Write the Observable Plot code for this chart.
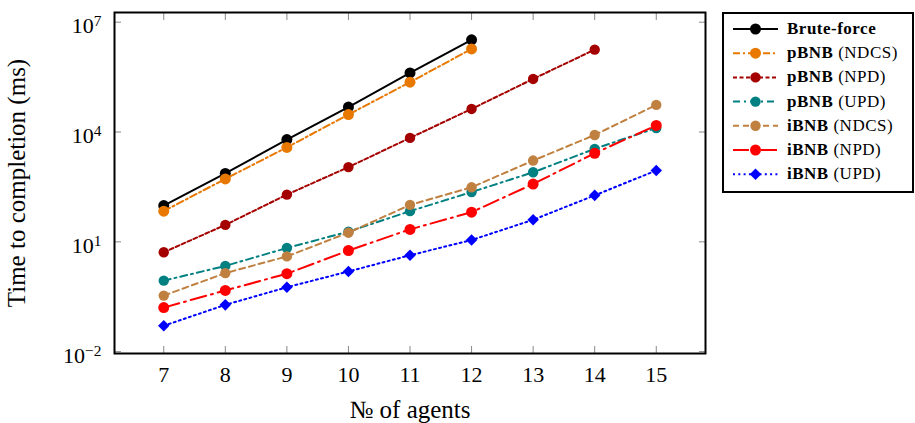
<!DOCTYPE html>
<html><head><meta charset="utf-8">
<script src="https://cdn.jsdelivr.net/npm/d3@7"></script>
<script src="https://cdn.jsdelivr.net/npm/@observablehq/plot@0.6"></script>
<style>body{margin:0;background:#fff} #chart{width:915px;height:423px}</style>
</head><body><div id="chart"></div>
<script>
// Data (time to completion in ms)
const agents = [7, 8, 9, 10, 11, 12, 13, 14, 15];
const bruteForce = [98, 740, 6200, 48000, 410000, 3300000];
const pbnbNdcs   = [69, 525, 3800, 30000, 230000, 1860000];
const pbnbNpd    = [5.2, 29, 195, 1100, 6900, 42700, 282000, 1780000];
const pbnbUpd    = [0.87, 2.2, 6.8, 19, 69, 229, 794, 3470, 12900];
const ibnbNdcs   = [0.34, 1.4, 4.0, 17.8, 102, 309, 1660, 8300, 55000];
const ibnbNpd    = [0.16, 0.47, 1.35, 5.8, 21.9, 64.6, 380, 2630, 15100];
const ibnbUpd    = [0.051, 0.19, 0.575, 1.55, 4.3, 11.2, 40, 186, 891];

const seriesNames    = ["Brute-force", "pBNB", "pBNB", "pBNB", "iBNB", "iBNB", "iBNB"];
const seriesVariants = ["", "NDCS", "NPD", "UPD", "NDCS", "NPD", "UPD"];
const seriesValues   = [bruteForce, pbnbNdcs, pbnbNpd, pbnbUpd, ibnbNdcs, ibnbNpd, ibnbUpd];

const xTicks = [7, 8, 9, 10, 11, 12, 13, 14, 15];
const yTicks = [1e-2, 1e1, 1e4, 1e7];
const xLabel = "№ of agents";
const yLabel = "Time to completion (ms)";

// styles
const seriesColors = ["#000000", "#e87800", "#a50000", "#008080", "#c08040", "#ff0000", "#0000ff"];
const seriesDash   = [null, "7 3 2 3", "4 2.5", "7 4 2 4", "6 4", "16 5 2 5", "2 3.3"];
const seriesSymbol = ["circle", "circle", "circle", "circle", "circle", "circle", "diamond2"];
const seriesR      = [5.5, 5.5, 5.2, 5.2, 5.2, 5.5, 5.2];

const marks = [];
seriesValues.forEach((vals, i) => {
  const data = vals.map((v, j) => ({x: agents[j], y: v}));
  marks.push(Plot.line(data, {x: "x", y: "y", stroke: seriesColors[i], strokeWidth: 2, strokeDasharray: seriesDash[i]}));
  marks.push(Plot.dot(data, {x: "x", y: "y", fill: seriesColors[i], stroke: "none", r: seriesR[i], symbol: seriesSymbol[i]}));
});

const expFmt = d => { const e = Math.round(Math.log10(d)); return e < 0 ? "\u2212" + (-e) : String(e); };

const chart = Plot.plot({
  width: 915, height: 423,
  marginLeft: 114, marginRight: 210, marginTop: 12, marginBottom: 70,
  style: {fontFamily: "'Liberation Serif', serif", fontSize: "22px", color: "black", background: "white"},
  x: {type: "linear", domain: [6.2, 15.8]},
  y: {type: "log", domain: [10 ** -2.05, 10 ** 7.265]},
  marks: [
    ...marks,
    Plot.axisX(xTicks, {anchor: "bottom", tickSize: -7, fill: "none", stroke: "#888", label: null}),
    Plot.axisX(xTicks, {anchor: "top", tickSize: -7, fill: "none", stroke: "#888", label: null}),
    Plot.axisY(yTicks, {anchor: "left", tickSize: -7, fill: "none", stroke: "#888", label: null}),
    Plot.axisY(yTicks, {anchor: "right", tickSize: -7, fill: "none", stroke: "#888", label: null}),
    Plot.axisX(xTicks, {anchor: "bottom", tickSize: 0, tickPadding: 13, tickFormat: d => String(d), label: xLabel, labelAnchor: "center", labelArrow: "none", labelOffset: 64}),
    Plot.axisY(yTicks, {anchor: "left", tickSize: 0, tickPadding: 13, dy: 4, tickFormat: expFmt, label: yLabel, labelAnchor: "center", labelArrow: "none", labelOffset: 107}),
    Plot.frame({stroke: "black", strokeWidth: 2})
  ]
});
document.getElementById("chart").appendChild(chart);

const svg = d3.select(chart);
// larger axis titles
svg.selectAll('g[aria-label="x-axis label"] text, g[aria-label="y-axis label"] text').attr("font-size", 25);
// superscript exponents on y tick labels
svg.selectAll('g[aria-label="y-axis tick label"] text').each(function() {
  const t = d3.select(this);
  const e = t.text();
  t.text("");
  t.append("tspan").text("10");
  t.append("tspan").attr("dy", "-0.45em").attr("font-size", "0.7em").text(e);
});

// legend
const lg = svg.append("g").attr("font-family", "'Liberation Serif', serif").attr("text-anchor", "start");
lg.append("rect").attr("x", 723).attr("y", 13).attr("width", 190).attr("height", 179)
  .attr("fill", "white").attr("stroke", "black").attr("stroke-width", 2);
const symMap = {circle: d3.symbolCircle, diamond2: d3.symbolDiamond2};
seriesNames.forEach((name, i) => {
  const y = 29 + i * 24.2;
  const g = lg.append("g");
  g.append("line").attr("x1", 733).attr("x2", 778).attr("y1", y).attr("y2", y)
    .attr("stroke", seriesColors[i]).attr("stroke-width", 2)
    .attr("stroke-dasharray", seriesDash[i]);
  g.append("path").attr("transform", `translate(755.5,${y})`)
    .attr("d", d3.symbol(symMap[seriesSymbol[i]], Math.PI * seriesR[i] ** 2)())
    .attr("fill", seriesColors[i]);
  const t = g.append("text").attr("x", 787).attr("y", y + 5).attr("font-size", 17)
    .attr("letter-spacing", "0.5px").attr("text-anchor", "start");
  t.append("tspan").attr("font-weight", "bold").text(name);
  if (seriesVariants[i]) t.append("tspan").text(" (" + seriesVariants[i] + ")");
});
</script></body></html>
